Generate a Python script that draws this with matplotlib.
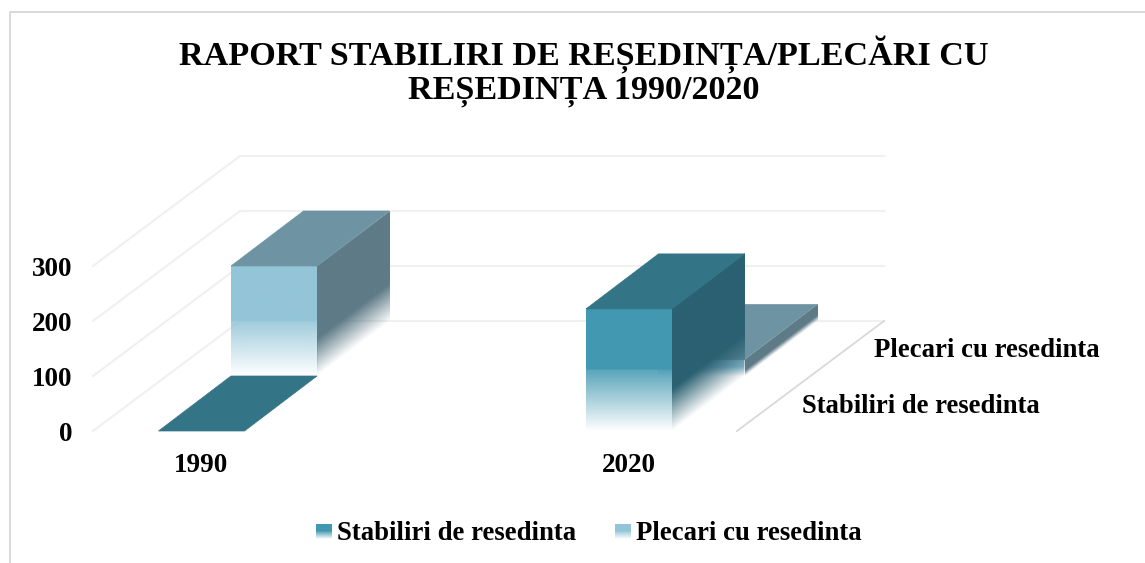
# -*- coding: utf-8 -*-
import numpy as np
import matplotlib
matplotlib.use("Agg")
import matplotlib.pyplot as plt
from matplotlib.colors import to_rgb
from matplotlib.lines import Line2D
from matplotlib.transforms import Affine2D

plt.rcParams['font.family'] = ['Liberation Serif', 'DejaVu Serif']

W, H = 1145, 563

years = ['1990', '2020']
stabiliri = [0, 222]
plecari = [200, 30]
y_ticks = [0, 100, 200, 300]
series_names = ['Stabiliri de resedinta', 'Plecari cu resedinta']
title = 'RAPORT STABILIRI DE REȘEDINȚA/PLECĂRI CU\nREȘEDINȚA 1990/2020'

# pixels per unit, the axes is in category / value units
px_x = 427.5
px_y = 0.55
x0_px = 201.5
y0_px = 431
bar_w = 86 / px_x
dx = 72.5 / px_x    # depth step (one series row)
dy = 55 / px_y
wall_dx = 147 / px_x


def fade_rgba(color, n=200, solid=0.5, edge=0.88):
    # alpha by height, 0 at the bottom of the face, solid above the fade
    t = (np.arange(n) + 0.5) / n
    a = np.clip(t / solid, 0, 1) * edge
    a[t >= solid] = 1.0
    rgba = np.zeros((n, 1, 4))
    rgba[:, :, :3] = to_rgb(color)
    rgba[:, :, 3] = a[:, None]
    return rgba


def face(ax, img, x, y, ux, uy, h, z):
    # fading image on the parallelogram from (x, y), along (ux, uy), height h
    m = np.array([[ux, 0, x], [uy, h, y], [0, 0, 1]], dtype=float)
    ax.imshow(img, extent=(0, 1, 0, 1), origin='lower', aspect='auto',
              interpolation='bilinear', zorder=z,
              transform=Affine2D(m) + ax.transData)


def bar3d(ax, x, v, row, front, top, side):
    xl = x - bar_w / 2 + row * dx
    xr = xl + bar_w
    y = row * dy
    z = 3 - row
    if v > 0:
        face(ax, fade_rgba(front), xl, y, bar_w, 0, v, z)
        face(ax, fade_rgba(side, solid=0.34, edge=1.0), xr, y, dx, dy, v, z)
    ax.fill([xl, xr, xr + dx, xl + dx], [y + v, y + v, y + v + dy, y + v + dy],
            color=top, lw=0.5, zorder=z)


fig = plt.figure(figsize=(W / 100, H / 100), dpi=100)
ax = fig.add_axes([0, 0, 1, 1])
xlim = ((0 - x0_px) / px_x, (W - x0_px) / px_x)
ylim = ((y0_px - H) / px_y, y0_px / px_y)
ax.axis('off')

# walls
x_left = (93 - x0_px) / px_x
x_right = (737 - x0_px) / px_x
grid_col = '#F0F0F0'
for t in y_ticks:
    ax.plot([x_left, x_left + wall_dx], [t, t + 2 * dy], color=grid_col, lw=1.5, zorder=1)
    ax.plot([x_left + wall_dx, x_right + wall_dx], [t + 2 * dy, t + 2 * dy], color=grid_col, lw=1.5, zorder=1)
ax.plot([x_right, x_right + wall_dx], [0, 2 * dy], color='#D9D9D9', lw=1.3, zorder=1)

# back row first, front row over it
cols_plec = ('#93C5D8', '#6E94A3', '#5E7B87')
cols_stab = ('#4298B1', '#337587', '#2B6172')
for i in range(len(years)):
    bar3d(ax, i, plecari[i], 1, *cols_plec)
    bar3d(ax, i, stabiliri[i], 0, *cols_stab)

ax.set_xlim(xlim)
ax.set_ylim(ylim)

txt = dict(fontweight='bold', color='black')
for t in y_ticks:
    ax.text((72.5 - x0_px) / px_x, t - 6, str(t), ha='right', va='center', fontsize=19.5, **txt)
for i, y in enumerate(years):
    ax.text(i, -62, y, ha='center', va='center', fontsize=19.5, **txt)
ax.text((802 - x0_px) / px_x, 44, series_names[0], ha='left', va='center', fontsize=19.2, **txt)
ax.text((874 - x0_px) / px_x, 146, series_names[1], ha='left', va='center', fontsize=19.3, **txt)

fig.text(583.5 / W, 1 - 71 / H, title, ha='center', va='center', fontsize=24.6, linespacing=1.03, **txt)

# legend, swatches with the same fade
for sx, col, name, tx in [(316, cols_stab[0], series_names[0], 337), (615, cols_plec[0], series_names[1], 636)]:
    ax_l = fig.add_axes([sx / W, 1 - 539 / H, 16 / W, 15 / H])
    ax_l.imshow(fade_rgba(col), extent=(0, 1, 0, 1), origin='lower', aspect='auto', interpolation='bilinear')
    ax_l.axis('off')
    fig.text(tx / W, 1 - 533 / H, name, ha='left', va='center', fontsize=19.3, **txt)

# chart border, only top and left are in the crop
fig.add_artist(Line2D([9.5 / W, 9.5 / W, 1], [0, 1 - 11.5 / H, 1 - 11.5 / H], color='#D9D9D9', lw=1.4,
                      transform=fig.transFigure))

fig.savefig('out.png', dpi=100)
